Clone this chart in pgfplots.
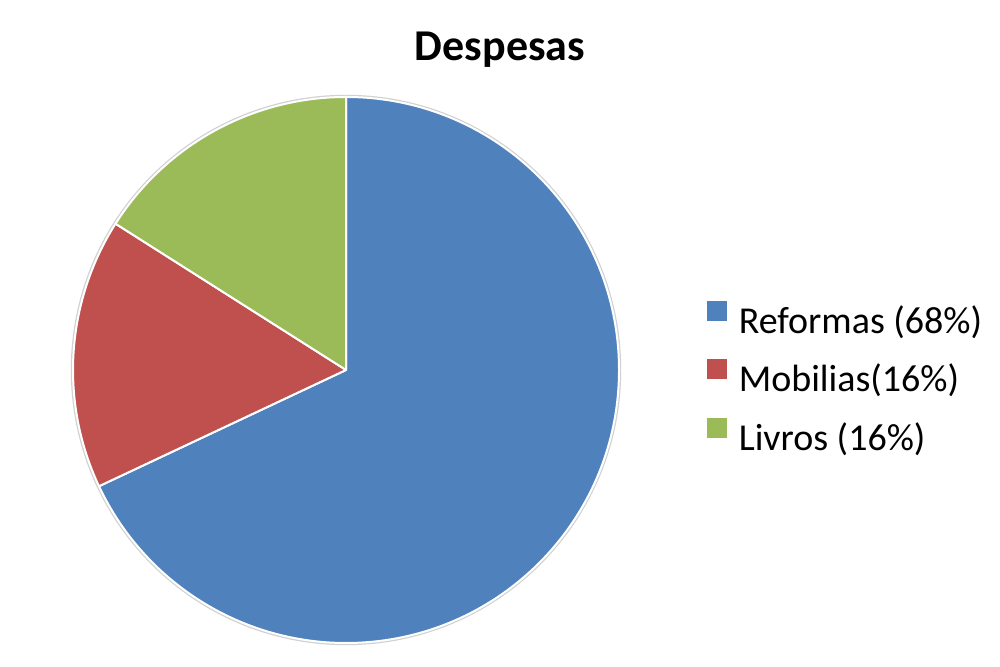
\documentclass[border=0pt]{standalone}
\usepackage{fontspec}
\setmainfont{Carlito}
\usepackage{pgfplots}
\usepackage{pgfplotstable}
\pgfplotsset{compat=1.18}
\definecolor{cRef}{HTML}{4F81BD}
\definecolor{cMob}{HTML}{C0504D}
\definecolor{cLiv}{HTML}{9BBB59}
\pgfplotstableread{
label value
Reformas 68
Mobilias 16
Livros 16
}\despesas
\begin{document}
\begin{tikzpicture}
\pgfplotstablegetelem{0}{value}\of\despesas \edef\va{\pgfplotsretval}
\pgfplotstablegetelem{1}{value}\of\despesas \edef\vb{\pgfplotsretval}
\pgfplotstablegetelem{2}{value}\of\despesas \edef\vc{\pgfplotsretval}
\pgfmathsetmacro\aA{90}
\pgfmathsetmacro\aB{90-3.6*\va}
\pgfmathsetmacro\aC{\aB-3.6*\vb}
\pgfmathsetmacro\aD{\aC-3.6*\vc}
\begin{axis}[
  name=main,
  width=500pt, height=333.5pt, scale only axis,
  xmin=0, xmax=1000, ymin=0, ymax=667,
  hide axis, clip=false,
  legend style={at={(0.701,0.4295)}, anchor=west, draw=none, fill=none,
    font=\fontsize{19}{21}\selectfont, row sep=8pt, column sep=0pt,
    nodes={inner sep=0pt, text height=12.5pt, text depth=5pt}},
  legend cell align=left,
  legend image code/.code={\fill[#1, draw=none] (0pt,2.5pt) rectangle (10pt,12.5pt); \path (15.5pt,0pt);},
]
\addlegendimage{fill=cRef}\addlegendentry{Reformas (68\%)}
\addlegendimage{fill=cMob}\addlegendentry{Mobilias(16\%)}
\addlegendimage{fill=cLiv}\addlegendentry{Livros (16\%)}
\draw[black!18, line width=1.6pt] (axis cs:346,297) circle[radius=136.8pt];
\fill[cRef, draw=white, line width=1pt, line join=round] (axis cs:346,297) -- ++(\aA:136.5pt) arc[start angle=\aA, end angle=\aB, radius=136.5pt] -- cycle;
\fill[cMob, draw=white, line width=1pt, line join=round] (axis cs:346,297) -- ++(\aB:136.5pt) arc[start angle=\aB, end angle=\aC, radius=136.5pt] -- cycle;
\fill[cLiv, draw=white, line width=1pt, line join=round] (axis cs:346,297) -- ++(\aC:136.5pt) arc[start angle=\aC, end angle=\aD, radius=136.5pt] -- cycle;
\node[anchor=base, font=\fontsize{22}{26}\selectfont\bfseries, inner sep=0pt] at (axis cs:500,606) {Despesas};
\end{axis}
\pgfresetboundingbox
\path[use as bounding box] (main.south west) rectangle (main.north east);
\end{tikzpicture}
\end{document}
